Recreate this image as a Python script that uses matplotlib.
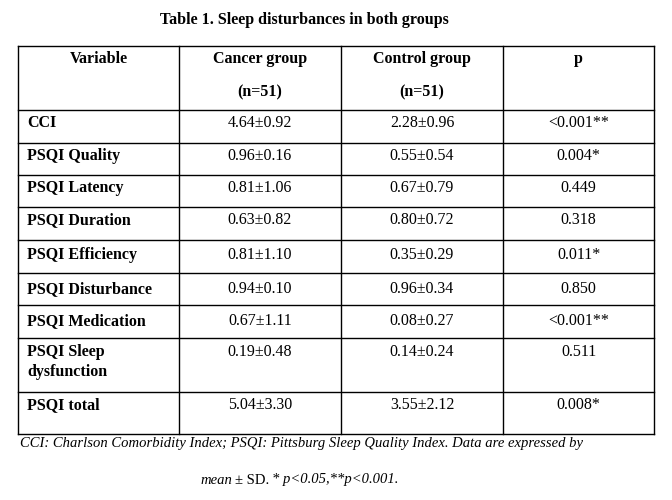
import matplotlib.pyplot as plt

title = "Table 1. Sleep disturbances in both groups"
headers = ["Variable", "Cancer group\n\n(n=51)", "Control group\n\n(n=51)", "p"]
variables = ["CCI", "PSQI Quality", "PSQI Latency", "PSQI Duration", "PSQI Efficiency",
             "PSQI Disturbance", "PSQI Medication", "PSQI Sleep\ndysfunction", "PSQI total"]
cancer = ["4.64±0.92", "0.96±0.16", "0.81±1.06", "0.63±0.82", "0.81±1.10",
          "0.94±0.10", "0.67±1.11", "0.19±0.48", "5.04±3.30"]
control = ["2.28±0.96", "0.55±0.54", "0.67±0.79", "0.80±0.72", "0.35±0.29",
           "0.96±0.34", "0.08±0.27", "0.14±0.24", "3.55±2.12"]
pvals = ["<0.001**", "0.004*", "0.449", "0.318", "0.011*",
         "0.850", "<0.001**", "0.511", "0.008*"]

# layout in pixels
col_x = [18, 179, 341, 503, 654]
row_y = [46, 110, 143, 175, 207, 240, 273, 305, 338, 392, 434]
pad = [5, 5, 5, 5, 7, 8, 8, 6, 5]
fs = 11.5

plt.rcParams['font.family'] = ['Liberation Serif', 'DejaVu Serif']
fig = plt.figure(figsize=(6.72, 5), dpi=100)
ax = fig.add_axes([0, 0, 1, 1])
ax.set_xlim(0, 672)
ax.set_ylim(500, 0)
ax.axis("off")

ax.text(304, 20, title, ha="center", va="center", fontsize=fs, fontweight="bold")

# grid lines
for y in row_y:
    ax.plot([col_x[0], col_x[-1]], [y, y], color="black", lw=1.0, solid_capstyle="projecting")
for x in col_x:
    ax.plot([x, x], [row_y[0], row_y[-1]], color="black", lw=1.0, solid_capstyle="projecting")

# header
for i, h in enumerate(headers):
    cx = (col_x[i] + col_x[i + 1]) / 2
    ax.text(cx, 51, h, ha="center", va="top", fontsize=fs, fontweight="bold", linespacing=1.06)

# body
for r in range(len(variables)):
    top = row_y[r + 1] + pad[r]
    ax.text(col_x[0] + 9, top, variables[r], ha="left", va="top",
            fontsize=fs, fontweight="bold", linespacing=1.35)
    for c, col in enumerate([cancer, control, pvals]):
        cx = (col_x[c + 1] + col_x[c + 2]) / 2
        ax.text(cx, top, col[r], ha="center", va="top", fontsize=fs)

ax.text(20, 444, "CCI: Charlson Comorbidity Index; PSQI: Pittsburg Sleep Quality Index. Data are expressed by",
        ha="left", va="center", fontsize=10.5, style="italic")
ax.text(232, 480, "mean", ha="right", va="center", fontsize=10.5, style="italic")
ax.text(235, 480, "± SD.", ha="left", va="center", fontsize=10.5)
ax.text(272, 480, "* p<0.05,**p<0.001.", ha="left", va="center", fontsize=10.5, style="italic")

fig.savefig("out.png", dpi=100)
